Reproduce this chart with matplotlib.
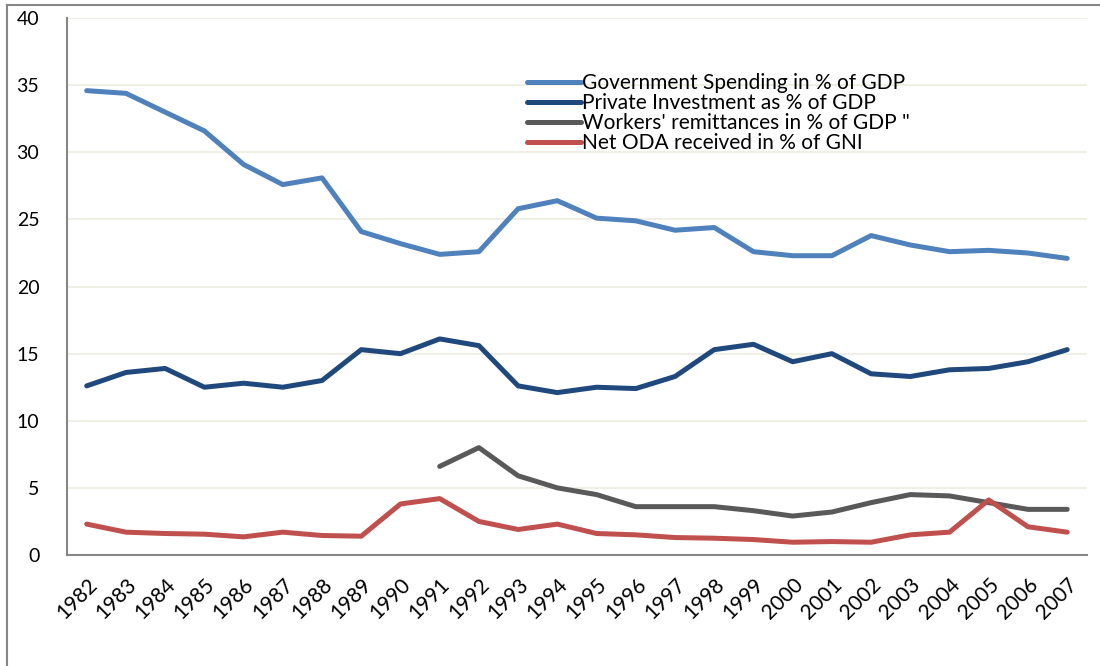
import matplotlib.pyplot as plt
from matplotlib.lines import Line2D
import numpy as np

plt.rcParams['font.family'] = ['Lato', 'DejaVu Sans']

years = list(range(1982, 2008))
gov_spending = [34.6, 34.4, 33.0, 31.6, 29.1, 27.6, 28.1, 24.1, 23.2, 22.4, 22.6, 25.8, 26.4,
                25.1, 24.9, 24.2, 24.4, 22.6, 22.3, 22.3, 23.8, 23.1, 22.6, 22.7, 22.5, 22.1]
private_inv = [12.6, 13.6, 13.9, 12.5, 12.8, 12.5, 13.0, 15.3, 15.0, 16.1, 15.6, 12.6, 12.1,
               12.5, 12.4, 13.3, 15.3, 15.7, 14.4, 15.0, 13.5, 13.3, 13.8, 13.9, 14.4, 15.3]
remittances = [np.nan] * 9 + [6.6, 8.0, 5.9, 5.0, 4.5, 3.6, 3.6, 3.6, 3.3, 2.9, 3.2, 3.9,
                              4.5, 4.4, 3.9, 3.4, 3.4]
net_oda = [2.3, 1.7, 1.6, 1.55, 1.35, 1.7, 1.45, 1.4, 3.8, 4.2, 2.5, 1.9, 2.3,
           1.6, 1.5, 1.3, 1.25, 1.15, 0.95, 1.0, 0.95, 1.5, 1.7, 4.1, 2.1, 1.7]

series = [
    ("Government Spending in % of GDP", gov_spending, "#4F81BD"),
    ("Private Investment as % of GDP", private_inv, "#1F497D"),
    ("Workers' remittances in % of GDP \"", remittances, "#595959"),
    ("Net ODA received in % of GNI", net_oda, "#C0504D"),
]

fig = plt.figure(figsize=(11, 6.66), dpi=100)
ax = fig.add_axes([0.061, 0.1667, 0.927, 0.806])

x = np.arange(len(years))
for label, vals, color in series:
    ax.plot(x, vals, color=color, linewidth=3.6, label=label, solid_capstyle='round')

ax.set_xlim(-0.5, len(years) - 0.5)
ax.set_ylim(0, 40)
ax.set_yticks(range(0, 41, 5))
ax.set_xticks(x)
ax.set_xticklabels([str(y) for y in years], rotation=45, ha='right', rotation_mode='anchor')
ax.tick_params(axis='y', length=0, labelsize=14, pad=20)
ax.tick_params(axis='x', length=0, labelsize=15, pad=14)

ax.grid(axis='y', color='#EEECE1', linewidth=1.2)
ax.set_axisbelow(True)
for s in ['top', 'right']:
    ax.spines[s].set_visible(False)
for s in ['left', 'bottom']:
    ax.spines[s].set_color('#868686')
    ax.spines[s].set_linewidth(1.5)

ax.legend(loc='upper left', bbox_to_anchor=(0.451, 0.897), frameon=False, fontsize=15,
          handlelength=2.6, handletextpad=0.05, labelspacing=0.0, borderaxespad=0,
          borderpad=0)

# outer frame lines
fig.add_artist(Line2D([0.0065, 1.0], [0.9925, 0.9925], color='#868686', linewidth=1.5))
fig.add_artist(Line2D([0.0065, 0.0065], [0.0, 0.9925], color='#868686', linewidth=1.5))

plt.savefig("out.png", dpi=100)
